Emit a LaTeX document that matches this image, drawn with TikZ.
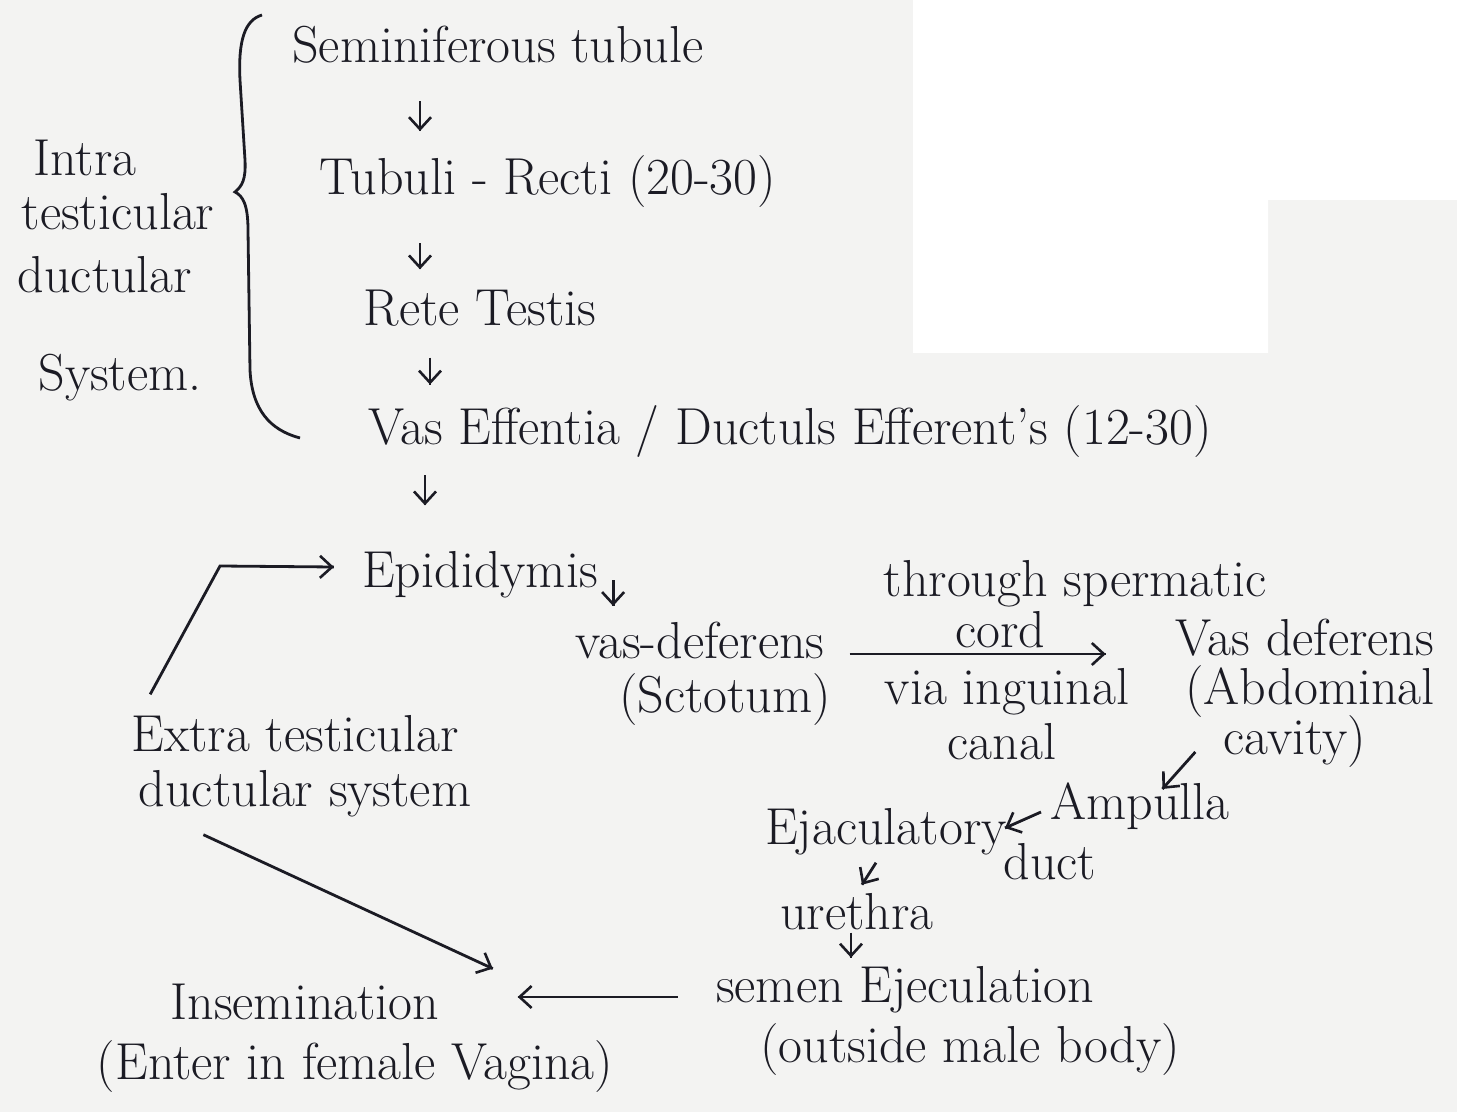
\documentclass[tikz,border=0pt]{standalone}
\usetikzlibrary{arrows.meta,calc,
                 decorations.markings}
\definecolor{ink}{HTML}{1B1B24}
\definecolor{paper}{HTML}{F3F3F2}
\tikzset{->/.style = {decoration={markings, mark=at position 1 with {\arrow{Straight Barb[length=6pt,width=11pt,line width=1.3pt]}}}, postaction={decorate}}}
\tikzset{txt/.style = {text=ink, font=\fontsize{26}{30}\selectfont, inner sep=1pt}}

\begin{document}
\begin{tikzpicture}[x=0.5pt, y=-0.5pt, line width=1.4pt, color=ink]
\useasboundingbox (0,0) rectangle (1457,1112);
\fill[paper] (0,0) rectangle (1457,1112);
\fill[white] (913,0) -- (1457,0) -- (1457,200) -- (1268,200) -- (1268,353) -- (913,353) -- cycle;
% testis part
\node[txt] (semi) at (498,45) {Seminiferous tubule};
\node[txt] (tubuli) at (548,182) {Tubuli - Recti (20-30)};
\node[txt] (rete) at (480,308) {Rete Testis};
\node[txt] (vasef) at (790,432) {Vas Effentia / Ductuls Efferent's (12-30)};
\node[txt] (intra1) at (85,158) {Intra};
\node[txt] (intra2) at (118,212) {testicular};
\node[txt] (intra3) at (105,275) {ductular};
\node[txt] (intra4) at (120,378) {System.};
\draw (262,15) .. controls (245,20) and (238,40) .. (240,80) -- (245,160) .. controls (246,180) and (242,186) .. (235,192) .. controls (243,196) and (248,205) .. (248,230) -- (250,370) .. controls (252,410) and (270,430) .. (300,438);
\draw [->] (semi.south -| 420,0) ++(0,34) -- ++(0,30);
\draw [->] (tubuli.south -| 420,0) ++(0,32) -- ++(0,26);
\draw [->] (rete.south -| 430,0) ++(0,28) -- ++(0,27);
\draw [->] (vasef.south -| 425,0) ++(0,14) -- ++(0,30);
% outside the testis
\node[txt] (epi) at (480,575) {Epididymis};
\node[txt] (vd1) at (700,640) {vas-deferens};
\node[txt] (vd2) at (725,700) {(Sctotum)};
\node[txt] (cord1) at (1075,584) {through spermatic};
\node[txt] (cord2) at (1000,630) {cord};
\node[txt] (ing1) at (1007,692) {via inguinal};
\node[txt] (ing2) at (1002,742) {canal};
\node[txt] (vd3) at (1305,638) {Vas deferens};
\node[txt] (vd4) at (1310,692) {(Abdominal};
\node[txt] (vd5) at (1295,742) {cavity)};
\node[txt] (amp) at (1140,806) {Ampulla};
\node[txt] (ejac1) at (886,832) {Ejaculatory};
\node[txt] (ejac2) at (1050,862) {duct};
\node[txt] (ureth) at (857,912) {urethra};
\node[txt] (semen1) at (905,990) {semen Ejeculation};
\node[txt] (semen2) at (970,1050) {(outside male body)};
\node[txt] (insem1) at (305,1002) {Insemination};
\node[txt] (insem2) at (355,1067) {(Enter in female Vagina)};
\node[txt] (extra1) at (295,734) {Extra testicular};
\node[txt] (extra2) at (305,794) {ductular system};
\coordinate (bend) at (220,566);
\draw [->] (epi.east) ++(12,5) -- ++(0,26);
\draw [->] (vd1.east) ++(22,14) -- ++(256,0);
\draw [->] (vd5.west) ++(-25,10) -- ++(-33,37);
\draw [->] (amp.west) ++(-6,6) -- ++(-36,16);
\draw [->] (ejac1.south) ++(-10,4) -- ++(-14,22);
\draw [->] (ureth.south) ++(-6,-1) -- ++(0,25);
\draw [->] (semen1.west) ++(-35,7) -- ++(-160,0);
\draw [->] ($(extra1.north west)+(22,-18)$) -- (bend) -- ($(epi.west)+(-25,-8)$);
\draw [->] ($(extra2.south west)+(68,14)$) -- ($(insem1.north east)+(50,-12)$);
\end{tikzpicture}
\end{document}
